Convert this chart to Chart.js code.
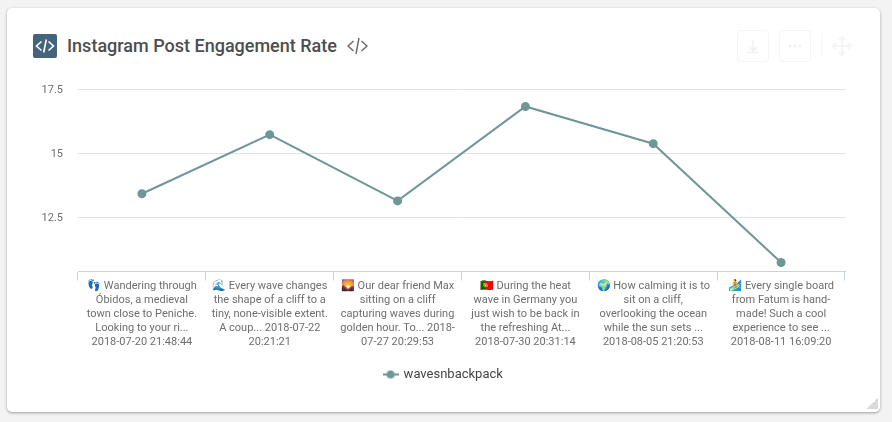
<!DOCTYPE html>
<html>
<head>
<meta charset="utf-8">
<style>
  html, body { margin: 0; padding: 0; width: 892px; height: 422px; overflow: hidden; background: #f3f3f3; font-family: Roboto, sans-serif; }
  #card { position: absolute; left: 7px; top: 8px; width: 873px; height: 404px; background: #fff; border-radius: 5px; box-shadow: 0 1px 3px rgba(0,0,0,.35); }
  #myChart { position: absolute; left: 0; top: 0; }
  #title { position: absolute; left: 67px; top: 35px; font-size: 18px; line-height: 22px; font-weight: 500; color: #4d4d4d; white-space: nowrap; }
  .abs { position: absolute; }
  .btn { position: absolute; top: 30px; width: 30px; height: 30px; border: 1px solid #f5f5f5; border-radius: 4px; }
  #grip { position: absolute; left: 867px; top: 398px; width: 11px; height: 11px; background: linear-gradient(135deg, transparent 50%, #d9d9d9 50%); }
</style>
</head>
<body>
<div id="card"></div>
<svg class="abs" style="left:33px;top:34px" width="24" height="24" viewBox="0 0 24 24">
  <rect width="24" height="24" rx="2" fill="#44647c"/>
  <path d="M8.5 7.5 3.5 12l5 4.5M15.5 7.5l5 4.5-5 4.5M13.3 5.5l-2.6 13" fill="none" stroke="#fff" stroke-width="1.6"/>
</svg>
<div id="title">Instagram Post Engagement Rate</div>
<svg class="abs" style="left:347px;top:36px" width="21" height="20" viewBox="0 0 21 20">
  <path d="M6.5 5 1 10l5.500 5M14.500 5 20 10l-5.500 5M12 2 9 18" fill="none" stroke="#666" stroke-width="1.4"/>
</svg>
<div class="btn" style="left:737px"></div>
<div class="btn" style="left:779px"></div>
<svg class="abs" style="left:737px;top:30px" width="32" height="32" viewBox="0 0 32 32">
  <path d="M16 10v11M12 17l4 4 4-4M10 22.500h12" fill="none" stroke="#f1f1f1" stroke-width="1.5"/>
</svg>
<svg class="abs" style="left:779px;top:30px" width="32" height="32" viewBox="0 0 32 32">
  <circle cx="11" cy="16" r="1.5" fill="#f1f1f1"/><circle cx="16" cy="16" r="1.5" fill="#f1f1f1"/><circle cx="21" cy="16" r="1.5" fill="#f1f1f1"/>
</svg>
<div class="abs" style="left:821px;top:34px;width:1px;height:24px;background:#f6f6f6"></div>
<svg class="abs" style="left:832px;top:36px" width="20" height="20" viewBox="0 0 20 20">
  <path d="M10 1v18M1 10h18M7 4l3-3 3 3M7 16l3 3 3-3M4 7l-3 3 3 3M16 7l3 3-3 3" fill="none" stroke="#f5f5f5" stroke-width="2"/>
</svg>
<div id="grip"></div>
<canvas id="myChart" width="892" height="422"></canvas>
<script src="https://cdn.jsdelivr.net/npm/chart.js@4"></script>
<script>
  const labels = [
    ['👣 Wandering through', 'Óbidos, a medieval', 'town close to Peniche.', 'Looking to your ri...', '2018-07-20 21:48:44'],
    ['🌊 Every wave changes', 'the shape of a cliff to a', 'tiny, none-visible extent.', 'A coup... 2018-07-22', '20:21:21'],
    ['🌄 Our dear friend Max', 'sitting on a cliff', 'capturing waves during', 'golden hour. To... 2018-', '07-27 20:29:53'],
    ['🇵🇹 During the heat', 'wave in Germany you', 'just wish to be back in', 'the refreshing At...', '2018-07-30 20:31:14'],
    ['🌍 How calming it is to', 'sit on a cliff,', 'overlooking the ocean', 'while the sun sets ...', '2018-08-05 21:20:53'],
    ['🏄 Every single board', 'from Fatum is hand-', 'made! Such a cool', 'experience to see ...', '2018-08-11 16:09:20']
  ];
  const color = '#6e9795';

  // legend marker: short line with a dot on it
  const marker = document.createElement('canvas');
  marker.width = 16;
  marker.height = 10;
  const m = marker.getContext('2d');
  m.strokeStyle = color;
  m.lineWidth = 2;
  m.beginPath();
  m.moveTo(0, 5);
  m.lineTo(16, 5);
  m.stroke();
  m.fillStyle = color;
  m.beginPath();
  m.arc(8, 5, 4, 0, Math.PI * 2);
  m.fill();

  new Chart(document.getElementById('myChart'), {
    type: 'line',
    data: {
      labels: labels,
      datasets: [{
        label: 'wavesnbackpack',
        data: [13.42, 15.72, 13.14, 16.82, 15.37, 10.74],
        borderColor: color,
        backgroundColor: color,
        borderWidth: 2,
        pointRadius: 3.5,
        tension: 0,
        fill: false
      }]
    },
    options: {
      responsive: false,
      animation: false,
      layout: { padding: { top: 89, right: 47, bottom: 31, left: 42 } },
      plugins: {
        legend: {
          position: 'bottom',
          labels: {
            usePointStyle: true,
            color: '#444',
            font: { family: 'Roboto', size: 13 },
            generateLabels: function (chart) {
              return [{
                text: chart.data.datasets[0].label,
                pointStyle: marker,
                fontColor: '#444',
                datasetIndex: 0
              }];
            }
          }
        },
        tooltip: { enabled: false }
      },
      scales: {
        x: {
          offset: true,
          grid: { offset: true, drawOnChartArea: false, color: '#c5d3ef', tickLength: 9 },
          border: { color: '#c5d3ef' },
          ticks: {
            autoSkip: false,
            maxRotation: 0,
            padding: -1,
            color: '#6e6e6e',
            font: { family: 'Roboto', size: 11, lineHeight: 14 / 11 }
          },
          afterFit: function (scale) { scale.height = 86.5; }
        },
        y: {
          min: 10.39,
          max: 17.5,
          border: { display: false },
          grid: { color: '#e2e2e2', drawTicks: false },
          ticks: {
            padding: 15,
            labelOffset: 1,
            color: '#6e6e6e',
            font: { family: 'Roboto', size: 11 }
          },
          afterBuildTicks: function (scale) {
            scale.ticks = [{ value: 12.5 }, { value: 15 }, { value: 17.5 }];
          },
          afterFit: function (scale) { scale.width = 36; }
        }
      }
    }
  });
</script>
</body>
</html>
